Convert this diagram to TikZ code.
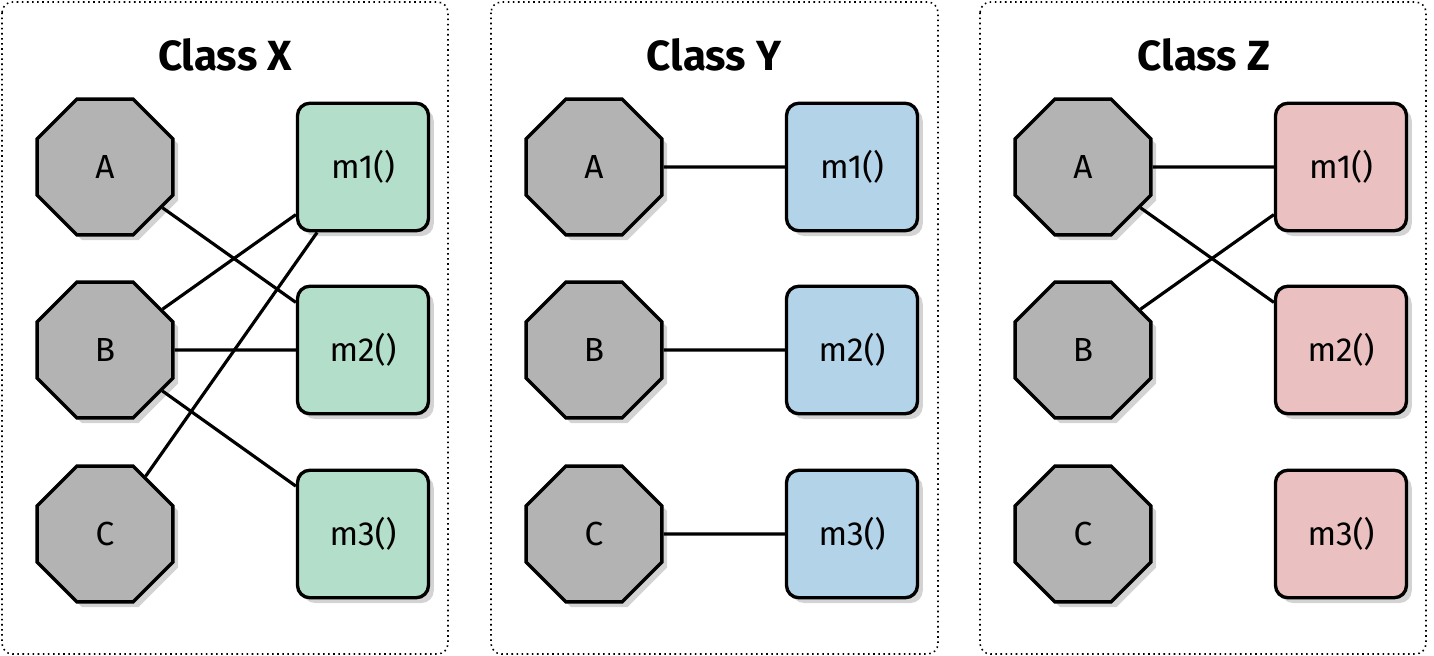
\documentclass[tikz,border=0pt]{standalone}
\usepackage{fontspec}
\setmainfont{Fira Sans}
\usetikzlibrary{positioning, shapes.geometric, shadows}
\definecolor{octgray}{HTML}{B3B3B3}
\definecolor{xgreen}{HTML}{B3DFCA}
\definecolor{yblue}{HTML}{B3D3E8}
\definecolor{zpink}{HTML}{EBC0C0}

\tikzset{
    panel/.style={draw, dotted, line width=0.9pt, rounded corners=6pt},
    title/.style={font=\fontsize{24}{28}\selectfont\bfseries},
    field/.style={regular polygon, regular polygon sides=8, draw, line width=1.9pt,
        fill=octgray, minimum size=2.94cm, inner sep=0, font=\fontsize{19}{22}\selectfont,
        drop shadow={shadow xshift=3pt, shadow yshift=-3pt, opacity=0.35}},
    method/.style={draw, line width=1.9pt, rounded corners=7pt, minimum width=2.62cm,
        minimum height=2.55cm, inner sep=0, font=\fontsize{19}{22}\selectfont,
        drop shadow={shadow xshift=3pt, shadow yshift=-3pt, opacity=0.35}},
    link/.style={line width=1.8pt}
}

\begin{document}
\begin{tikzpicture}[x=0.02cm, y=-0.02cm]
    \useasboundingbox (0,0) rectangle (1434,656);

    % panels and titles
    \draw[panel] (2,2) rectangle (448,654);
    \draw[panel] (491,2) rectangle (938,654);
    \draw[panel] (980,2) rectangle (1426,654);
    \node[title] (tx) at (225,55) {Class X};
    \node[title] (ty) at (714,55) {Class Y};
    \node[title] (tz) at (1204,55) {Class Z};

    % class X
    \node[field] (xa) at (105,167) {A};
    \node[field] (xb) at (105,350) {B};
    \node[field] (xc) at (105,534) {C};
    \node[method, fill=xgreen] (xm1) at (363,167) {m1()};
    \node[method, fill=xgreen] (xm2) at (363,350) {m2()};
    \node[method, fill=xgreen] (xm3) at (363,534) {m3()};
    \draw[link] (xa) -- (xm2);
    \draw[link] (xb) -- (xm1);
    \draw[link] (xb) -- (xm2);
    \draw[link] (xb) -- (xm3);
    \draw[link] (xc) -- (xm1);

    % class Y
    \node[field] (ya) at (594,167) {A};
    \node[field] (yb) at (594,350) {B};
    \node[field] (yc) at (594,534) {C};
    \node[method, fill=yblue] (ym1) at (852,167) {m1()};
    \node[method, fill=yblue] (ym2) at (852,350) {m2()};
    \node[method, fill=yblue] (ym3) at (852,534) {m3()};
    \draw[link] (ya) -- (ym1);
    \draw[link] (yb) -- (ym2);
    \draw[link] (yc) -- (ym3);

    % class Z
    \node[field] (za) at (1083,167) {A};
    \node[field] (zb) at (1083,350) {B};
    \node[field] (zc) at (1083,534) {C};
    \node[method, fill=zpink] (zm1) at (1341,167) {m1()};
    \node[method, fill=zpink] (zm2) at (1341,350) {m2()};
    \node[method, fill=zpink] (zm3) at (1341,534) {m3()};
    \draw[link] (za) -- (zm1);
    \draw[link] (za) -- (zm2);
    \draw[link] (zb) -- (zm1);
\end{tikzpicture}
\end{document}
